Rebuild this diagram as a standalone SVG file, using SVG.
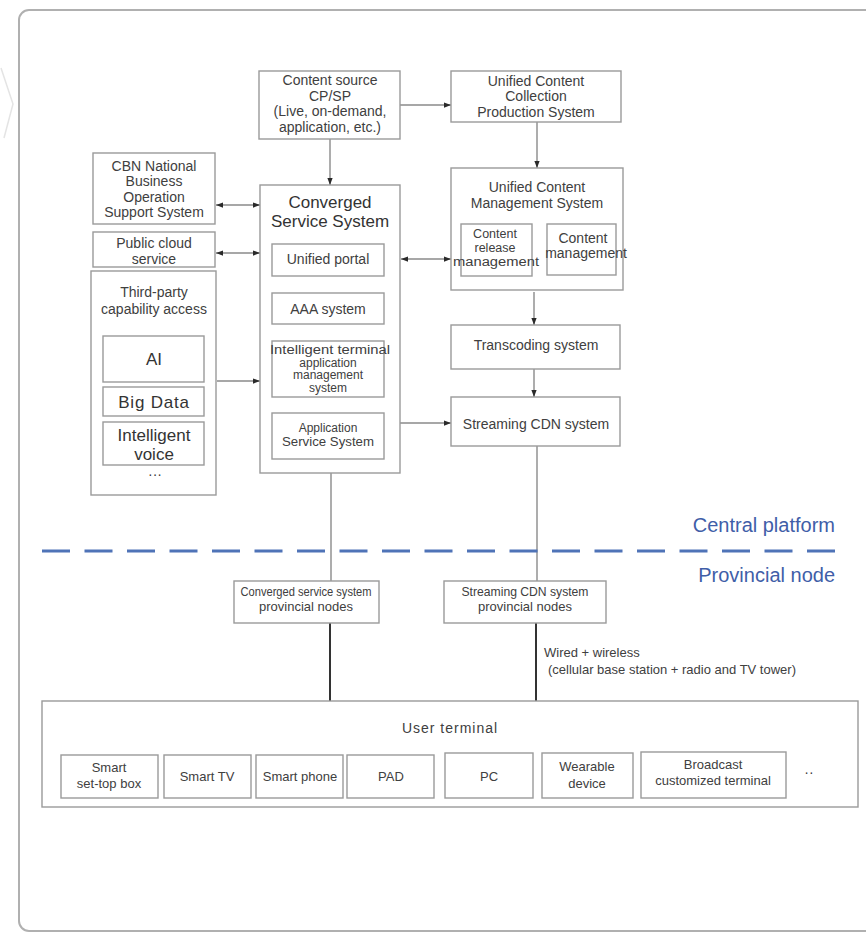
<svg xmlns="http://www.w3.org/2000/svg" width="866" height="934" viewBox="0 0 866 934">
  <style>
    .box { fill: #ffffff; stroke: #9a9a9a; stroke-width: 1.4; }
    .t { font-family: "Liberation Sans", Arial, sans-serif; font-size: 14px; fill: #404040; text-anchor: middle; }
    .ts { font-size: 13px; }
    .tm { font-size: 12.5px; }
    .tx { font-size: 12px; }
    .tb { font-size: 17px; fill: #333333; }
    .lvl { font-family: "Liberation Sans", Arial, sans-serif; font-size: 20px; fill: #3f5ea8; text-anchor: end; }
    .note { font-family: "Liberation Sans", Arial, sans-serif; font-size: 13px; fill: #404040; }
    .ln { fill: none; stroke: #8a8a8a; stroke-width: 1.4; }
    .dk { fill: none; stroke: #333333; stroke-width: 2; }
  </style>
  <defs>
    <marker id="ah" viewBox="0 0 8 8" refX="8" refY="4" markerWidth="7" markerHeight="7" orient="auto-start-reverse" markerUnits="userSpaceOnUse">
      <path d="M0,1 L8,4 L0,7 z" fill="#2a2a2a"/>
    </marker>
  </defs>

  <!-- page frame -->
  <rect x="19" y="10" width="890" height="921" rx="10" fill="#ffffff" stroke="#b0b0b0" stroke-width="2"/>
  <polyline points="1,68 13,104 4,138" fill="none" stroke="#e4e4e4" stroke-width="1.5"/>

  <!-- connectors -->
  <g id="connectors">
    <path class="ln" d="M400,105 H451" stroke-width="2.2" marker-end="url(#ah)"/>
    <path class="ln" d="M330,139 V185" marker-end="url(#ah)"/>
    <path class="ln" d="M537,122 V168" marker-end="url(#ah)"/>
    <path class="ln" d="M216,205 H260" marker-start="url(#ah)" marker-end="url(#ah)"/>
    <path class="ln" d="M216,253 H260" marker-start="url(#ah)" marker-end="url(#ah)"/>
    <path class="ln" d="M401,259 H451" marker-start="url(#ah)" marker-end="url(#ah)"/>
    <path class="ln" d="M217,381 H260" marker-end="url(#ah)"/>
    <path class="ln" d="M400,423 H451" marker-end="url(#ah)"/>
    <path class="ln" d="M534,292 V325" marker-end="url(#ah)"/>
    <path class="ln" d="M534,369 V397" marker-end="url(#ah)"/>
    <path class="ln" d="M331,473 V581"/>
    <path class="ln" d="M537,446 V581"/>
    <path class="dk" d="M330,623 V701"/>
    <path class="dk" d="M536,623 V701"/>
  </g>

  <!-- level divider -->
  <g id="divider">
    <path d="M42,551 H835" stroke="#4f73b7" stroke-width="3" stroke-dasharray="28 14.5" fill="none"/>
    <text class="lvl" x="835" y="532">Central platform</text>
    <text class="lvl" x="835" y="582">Provincial node</text>
  </g>

  <g id="content-source">
    <rect class="box" x="259" y="71" width="141" height="68"/>
    <text class="t" x="330" y="85">Content source</text>
    <text class="t" x="330" y="101">CP/SP</text>
    <text class="t" x="330" y="116">(Live, on-demand,</text>
    <text class="t" x="330" y="132">application, etc.)</text>
  </g>

  <g id="content-collection">
    <rect class="box" x="451" y="71" width="170" height="51"/>
    <text class="t" x="536" y="86">Unified Content</text>
    <text class="t" x="536" y="101">Collection</text>
    <text class="t" x="536" y="117">Production System</text>
  </g>

  <g id="cbn-boss">
    <rect class="box" x="93" y="153" width="122" height="71"/>
    <text class="t" x="154" y="171">CBN National</text>
    <text class="t" x="154" y="186">Business</text>
    <text class="t" x="154" y="202">Operation</text>
    <text class="t" x="154" y="217">Support System</text>
  </g>

  <g id="public-cloud">
    <rect class="box" x="93" y="232" width="122" height="35"/>
    <text class="t" x="154" y="248">Public cloud</text>
    <text class="t" x="154" y="264">service</text>
  </g>

  <g id="third-party">
    <rect class="box" x="91" y="271" width="125" height="224"/>
    <text class="t" x="154" y="297">Third-party</text>
    <text class="t" x="154" y="314">capability access</text>
    <rect class="box" x="103" y="336" width="101" height="46"/>
    <text class="t tb" x="154" y="365">AI</text>
    <rect class="box" x="103" y="387" width="101" height="29"/>
    <text class="t tb" x="154" y="408" letter-spacing="0.8">Big Data</text>
    <rect class="box" x="103" y="422" width="101" height="43"/>
    <text class="t tb" x="154" y="441">Intelligent</text>
    <text class="t tb" x="154" y="460">voice</text>
    <text class="t" x="155" y="479" fill="#777">···</text>
  </g>

  <g id="converged-service">
    <rect class="box" x="260" y="185" width="140" height="288"/>
    <text class="t tb" x="330" y="208" font-size="17.5">Converged</text>
    <text class="t tb" x="330" y="227" font-size="17.5">Service System</text>
    <rect class="box" x="272" y="244" width="112" height="32"/>
    <text class="t" x="328" y="264">Unified portal</text>
    <rect class="box" x="272" y="293" width="112" height="31"/>
    <text class="t" x="328" y="314">AAA system</text>
    <rect class="box" x="272" y="341" width="112" height="56"/>
    <text class="t tx" x="330" y="354" textLength="120" lengthAdjust="spacingAndGlyphs">Intelligent terminal</text>
    <text class="t tx" x="328" y="366.5">application</text>
    <text class="t tx" x="328" y="379">management</text>
    <text class="t tx" x="328" y="391.5">system</text>
    <rect class="box" x="272" y="413" width="112" height="46"/>
    <text class="t tx" x="328" y="432">Application</text>
    <text class="t tx" x="328" y="445.5" textLength="92" lengthAdjust="spacingAndGlyphs">Service System</text>
  </g>

  <g id="content-management">
    <rect class="box" x="451" y="168" width="172" height="122"/>
    <text class="t" x="537" y="192">Unified Content</text>
    <text class="t" x="537" y="208">Management System</text>
    <rect class="box" x="461" y="224" width="71" height="52"/>
    <text class="t tm" x="495" y="238">Content</text>
    <text class="t tm" x="495" y="252">release</text>
    <text class="t tm" x="496" y="266" textLength="86" lengthAdjust="spacingAndGlyphs">management</text>
    <rect class="box" x="547" y="224" width="69" height="51"/>
    <text class="t" x="583" y="243">Content</text>
    <text class="t" x="586" y="258">management</text>
  </g>

  <g id="transcoding">
    <rect class="box" x="451" y="325" width="169" height="44"/>
    <text class="t" x="536" y="350">Transcoding system</text>
  </g>

  <g id="streaming-cdn">
    <rect class="box" x="451" y="397" width="169" height="49"/>
    <text class="t" x="536" y="429">Streaming CDN system</text>
  </g>

  <g id="converged-provincial">
    <rect class="box" x="234" y="581" width="145" height="42"/>
    <text class="t ts" x="306" y="596" textLength="131" lengthAdjust="spacingAndGlyphs">Converged service system</text>
    <text class="t ts" x="306" y="611">provincial nodes</text>
  </g>

  <g id="cdn-provincial">
    <rect class="box" x="444" y="581" width="162" height="42"/>
    <text class="t ts" x="525" y="596" textLength="127" lengthAdjust="spacingAndGlyphs">Streaming CDN system</text>
    <text class="t ts" x="525" y="611">provincial nodes</text>
  </g>

  <g id="access-note">
    <text class="note" x="544" y="657">Wired + wireless</text>
    <text class="note" x="548" y="674">(cellular base station + radio and TV tower)</text>
  </g>

  <g id="user-terminal">
    <rect class="box" x="42" y="701" width="816" height="106"/>
    <text class="t" x="450" y="733" font-size="18" fill="#333" letter-spacing="1">User terminal</text>
    <rect class="box" x="61" y="755" width="97" height="43"/>
    <text class="t ts" x="109" y="772">Smart</text>
    <text class="t ts" x="109" y="788">set-top box</text>
    <rect class="box" x="164" y="755" width="87" height="43"/>
    <text class="t ts" x="207" y="781">Smart TV</text>
    <rect class="box" x="256" y="755" width="87" height="43"/>
    <text class="t ts" x="300" y="781">Smart phone</text>
    <rect class="box" x="347" y="755" width="87" height="43"/>
    <text class="t ts" x="391" y="781">PAD</text>
    <rect class="box" x="445" y="753" width="88" height="45"/>
    <text class="t ts" x="489" y="781">PC</text>
    <rect class="box" x="542" y="753" width="91" height="45"/>
    <text class="t ts" x="587" y="771">Wearable</text>
    <text class="t ts" x="587" y="788">device</text>
    <rect class="box" x="641" y="752" width="145" height="46"/>
    <text class="t ts" x="713" y="769">Broadcast</text>
    <text class="t ts" x="713" y="785">customized terminal</text>
    <text class="t" x="809" y="777">··</text>
  </g>
</svg>
